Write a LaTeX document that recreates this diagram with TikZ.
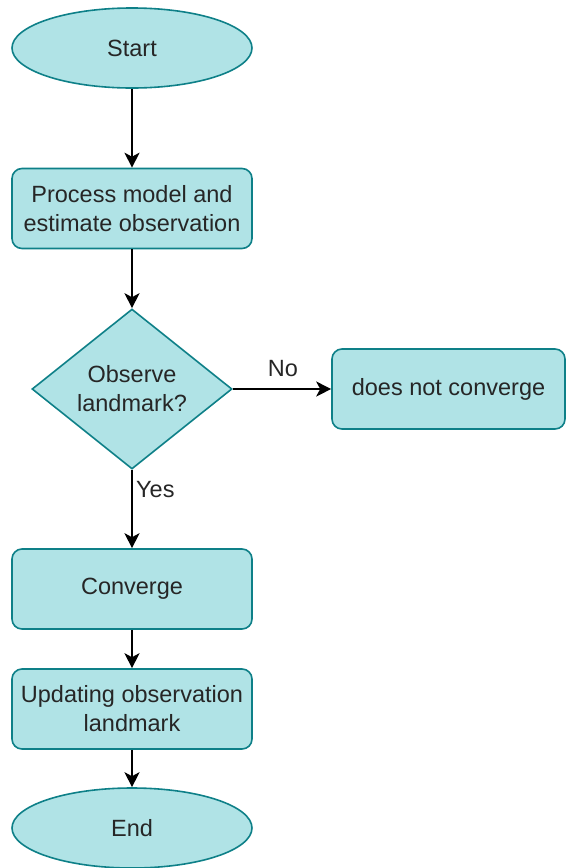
\documentclass[tikz,border=0pt]{standalone}
\usepackage{fontspec}
\setmainfont{Liberation Sans}
\usetikzlibrary{shapes.geometric,arrows.meta}
\definecolor{boxfill}{HTML}{B0E3E6}
\definecolor{boxline}{HTML}{0E8088}
\definecolor{ink}{HTML}{262626}
\begin{document}
\begin{tikzpicture}[x=1pt,y=-1pt,
  every node/.style={font=\fontsize{23.5}{29}\selectfont, text=ink},
  base/.style={draw=boxline, fill=boxfill, line width=1.6pt, inner sep=0pt, align=center},
  terminal/.style={base, ellipse, minimum width=240pt, minimum height=80pt},
  stepbox/.style={base, rectangle, rounded corners=10pt, minimum width=240pt, minimum height=80pt},
  decision/.style={base, diamond, minimum width=200pt, minimum height=160pt},
  flow/.style={line width=1.6pt, draw=black, -{Stealth[length=15pt, width=15pt, inset=4pt]}},
  tag/.style={inner sep=0pt}
]
\useasboundingbox (0,0) rectangle (566,868);
\fill[white] (0,0) rectangle (566,868);

\node[terminal] (start) at (132,48) {Start};
\node[stepbox] (process) at (132,208.5) {Process model and\\estimate observation};
\node[decision, label={[align=center]center:Observe\\landmark?}] (observe) at (132,389) {};
\node[stepbox, minimum width=233pt] (noconv) at (448.5,389) {does not converge};
\node[stepbox] (conv) at (132,589) {Converge};
\node[stepbox] (update) at (132,709) {Updating observation\\landmark};
\node[terminal] (finish) at (132,828) {End};

\draw[flow] (start) -- (process);
\draw[flow] (process) -- (observe.north);
\draw[flow] (observe.east) -- (noconv.west);
\draw[flow] (observe.south) -- (conv);
\draw[flow] (conv) -- (update);
\draw[flow] (update) -- (finish);

\node[tag, anchor=base] (nolbl) at (283,376) {No};
\node[tag, anchor=base west] (yeslbl) at (136,497) {Yes};
\end{tikzpicture}
\end{document}
